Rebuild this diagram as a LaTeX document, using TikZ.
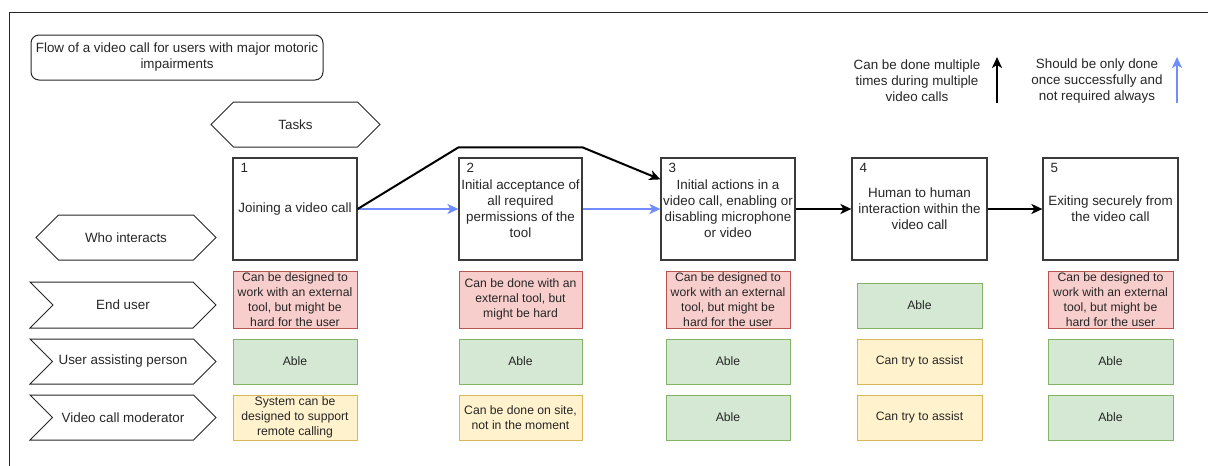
\documentclass[tikz,border=0pt]{standalone}
\usepackage{fontspec}
\setmainfont{Liberation Sans}
\usepackage{tikz}
\usetikzlibrary{arrows.meta,shapes.symbols}

\definecolor{redfill}{HTML}{F8CECC}
\definecolor{redline}{HTML}{B85450}
\definecolor{greenfill}{HTML}{D5E8D4}
\definecolor{greenline}{HTML}{82B366}
\definecolor{yellowfill}{HTML}{FFF2CC}
\definecolor{yellowline}{HTML}{D6B656}
\definecolor{onceblue}{RGB}{112,140,255}
\definecolor{boxgray}{HTML}{3A3A3A}

\tikzset{
  basefont/.style={font=\fontsize{13.4}{16}\selectfont, text=black!85},
  cellfont/.style={font=\fontsize{12.2}{14.8}\selectfont, text=black!85},
  taskbox/.style={basefont, draw=boxgray, line width=1.2pt, fill=white,
    minimum height=102pt, align=center, inner sep=2pt},
  tasknum/.style={basefont, anchor=north west, inner sep=0pt},
  hexlabel/.style={basefont, draw=black!85, line width=1pt, shape=signal,
    signal to=west and east, minimum height=45pt, inner sep=2pt},
  rowlabel/.style={basefont, draw=black!85, line width=1pt, shape=signal,
    signal from=west, signal to=east, minimum height=46pt, minimum width=186pt, inner sep=2pt},
  cell/.style={cellfont, line width=1pt, minimum height=45pt, align=center, inner sep=1pt},
  hardcell/.style={cell, fill=redfill, draw=redline, minimum height=57pt},
  ablecell/.style={cell, fill=greenfill, draw=greenline},
  partcell/.style={cell, fill=yellowfill, draw=yellowline},
  flow/.style={line width=2pt, -{Stealth[length=11pt,width=10pt,inset=3pt]}},
}

\begin{document}
\begin{tikzpicture}[x=1pt,y=-1pt]
  \useasboundingbox (0,0) rectangle (1208,466);

  % Frame
  \draw[line width=1pt, black!85] (9,466) -- (9,12) -- (1208,12);

  % Title
  \node[basefont, draw=black!85, line width=1pt, rounded corners=8pt, align=center,
    minimum width=292pt, minimum height=45pt, inner sep=1pt] (title) at (177,57.5)
    {Flow of a video call for users with major motoric\\impairments};

  % Legend
  \node[basefont, align=center] (legmulti) at (917,81)
    {Can be done multiple\\times during multiple\\video calls};
  \node[basefont, align=center] (legonce) at (1097,81)
    {Should be only done\\once successfully and\\not required always};
  \coordinate (mfrom) at (997,103);
  \coordinate (mto) at (997,57);
  \coordinate (ofrom) at (1177,103);
  \coordinate (oto) at (1177,57);
  \draw[flow] (mfrom) -- (mto);
  \draw[flow, onceblue] (ofrom) -- (oto);

  % Headers
  \node[hexlabel, minimum width=169pt] (tasks) at (295.5,124.5) {Tasks};
  \node[hexlabel, minimum width=180pt] (who) at (126,237.5) {Who interacts};

  % Who interacts rows
  \node[rowlabel] (enduser) at (123,305) {End user};
  \node[rowlabel, minimum height=45pt] (assist) at (123,361.5) {User assisting person};
  \node[rowlabel, minimum height=45pt] (moder) at (123,417.5) {Video call moderator};

  % Tasks
  \node[taskbox, minimum width=124pt] (t1) at (295,209) {Joining a video call};
  \node[taskbox, minimum width=123pt] (t2) at (520.5,209)
    {Initial acceptance of\\all required\\permissions of the\\tool};
  \node[taskbox, minimum width=134pt] (t3) at (728,209)
    {Initial actions in a\\video call, enabling or\\disabling microphone\\or video};
  \node[taskbox, minimum width=135pt] (t4) at (919.5,209)
    {Human to human\\interaction within the\\video call};
  \node[taskbox, minimum width=135pt] (t5) at (1110.5,209)
    {Exiting securely from\\the video call};

  \node[tasknum] (n1) at ([shift={(8pt,-6pt)}]t1.north west) {1};
  \node[tasknum] (n2) at ([shift={(8pt,-6pt)}]t2.north west) {2};
  \node[tasknum] (n3) at ([shift={(8pt,-6pt)}]t3.north west) {3};
  \node[tasknum] (n4) at ([shift={(8pt,-6pt)}]t4.north west) {4};
  \node[tasknum] (n5) at ([shift={(8pt,-6pt)}]t5.north west) {5};

  % Flow between tasks
  \draw[flow, onceblue] (t1.east) -- (t2.west);
  \draw[flow, onceblue] (t2.east) -- (t3.west);
  \draw[flow, line join=round] (t1.east) -- ([yshift=10pt]t2.north west)
    -- ([yshift=10pt]t2.north east) -- ([yshift=-22pt]t3.north west);
  \draw[flow] (t3.east) -- (t4.west);
  \draw[flow] (t4.east) -- (t5.west);

  % End user
  \node[hardcell, minimum width=124pt] (e1) at (295,299.5)
    {Can be designed to\\work with an external\\tool, but might be\\hard for the user};
  \node[hardcell, minimum width=123pt] (e2) at (520.5,299.5)
    {Can be done with an\\external tool, but\\might be hard};
  \node[hardcell, minimum width=124pt] (e3) at (728,299.5)
    {Can be designed to\\work with an external\\tool, but might be\\hard for the user};
  \node[ablecell, minimum width=125pt] (e4) at (919.5,305.5) {Able};
  \node[hardcell, minimum width=125pt] (e5) at (1110.5,299.5)
    {Can be designed to\\work with an external\\tool, but might be\\hard for the user};

  % User assisting person
  \node[ablecell, minimum width=124pt] (a1) at (295,361.5) {Able};
  \node[ablecell, minimum width=123pt] (a2) at (520.5,361.5) {Able};
  \node[ablecell, minimum width=124pt] (a3) at (728,361.5) {Able};
  \node[partcell, minimum width=125pt] (a4) at (919.5,361.5) {Can try to assist};
  \node[ablecell, minimum width=125pt] (a5) at (1110.5,361.5) {Able};

  % Video call moderator
  \node[partcell, minimum width=124pt] (m1) at (295,417.5)
    {System can be\\designed to support\\remote calling};
  \node[partcell, minimum width=123pt] (m2) at (520.5,417.5)
    {Can be done on site,\\not in the moment};
  \node[ablecell, minimum width=124pt] (m3) at (728,417.5) {Able};
  \node[partcell, minimum width=125pt] (m4) at (919.5,417.5) {Can try to assist};
  \node[ablecell, minimum width=125pt] (m5) at (1110.5,417.5) {Able};

\end{tikzpicture}
\end{document}
